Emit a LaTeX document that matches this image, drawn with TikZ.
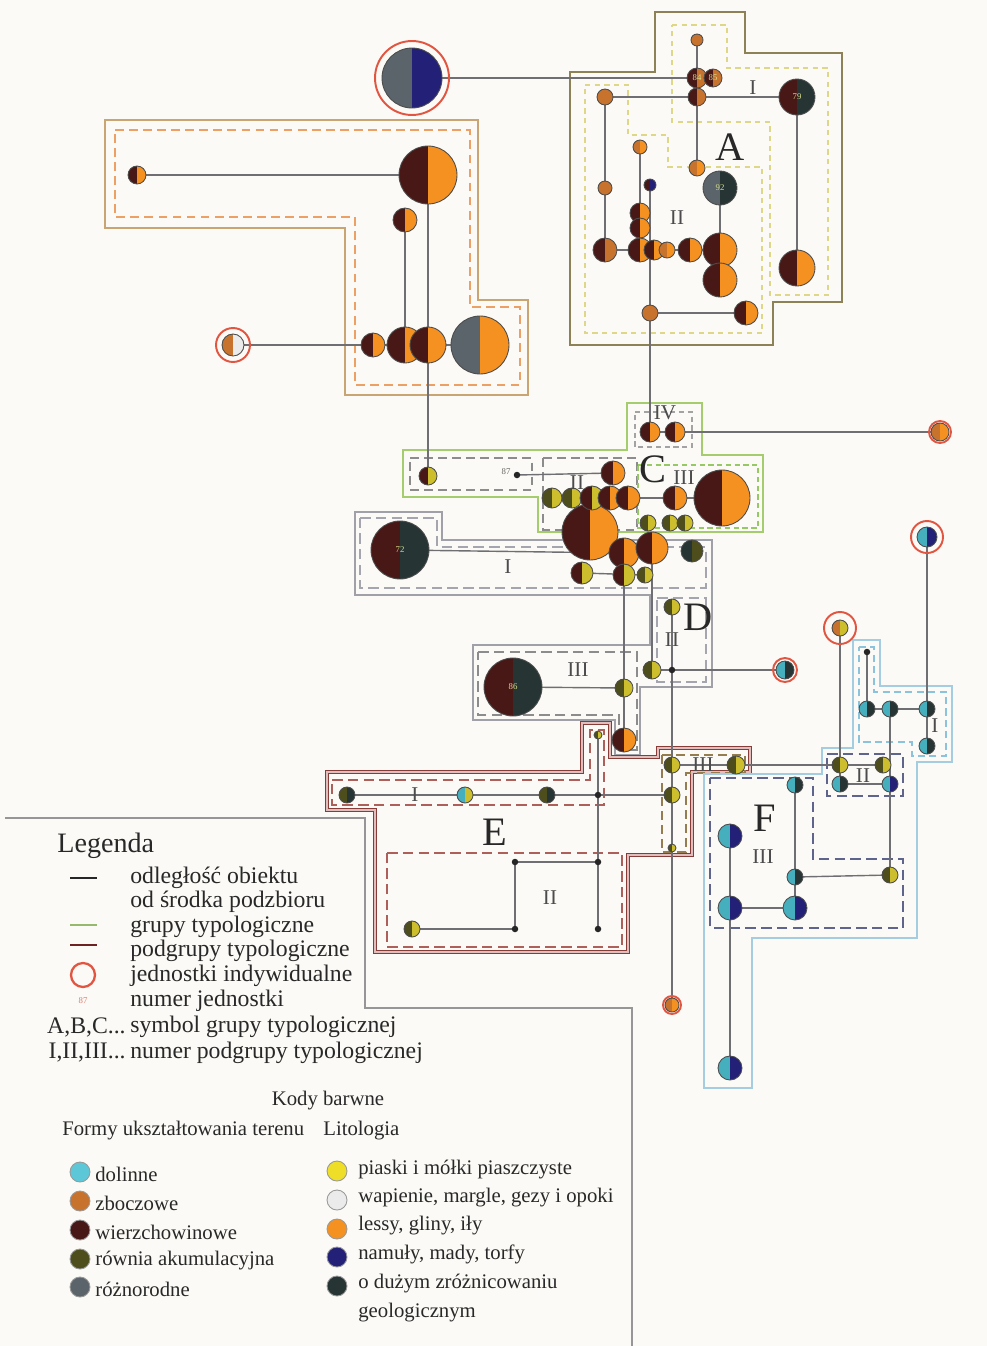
\documentclass[tikz,border=0pt]{standalone}
\usepackage{fontspec}
\setmainfont{Liberation Serif}
\definecolor{bgc}{RGB}{251,250,246}
\definecolor{dol}{RGB}{92,200,215}
\definecolor{zbo}{RGB}{200,115,45}
\definecolor{wie}{RGB}{72,24,22}
\definecolor{row}{RGB}{78,78,28}
\definecolor{roz}{RGB}{90,100,106}
\definecolor{pia}{RGB}{238,222,40}
\definecolor{wap}{RGB}{235,235,235}
\definecolor{les}{RGB}{245,145,32}
\definecolor{nam}{RGB}{35,32,120}
\definecolor{duz}{RGB}{38,52,52}
\definecolor{dolm}{RGB}{70,175,190}
\definecolor{piam}{RGB}{205,190,45}
\definecolor{linec}{RGB}{110,110,115}
\definecolor{ringc}{RGB}{225,85,65}
\definecolor{numc}{RGB}{215,220,140}
\definecolor{txtc}{RGB}{40,40,40}
\definecolor{grpAc}{RGB}{140,130,85}
\definecolor{subAc}{RGB}{222,215,135}
\definecolor{grpBc}{RGB}{200,165,115}
\definecolor{subBc}{RGB}{236,160,100}
\definecolor{grpCc}{RGB}{165,205,110}
\definecolor{subCg}{RGB}{140,140,140}
\definecolor{subCc}{RGB}{150,200,100}
\definecolor{grpDc}{RGB}{160,160,168}
\definecolor{subDc}{RGB}{165,165,175}
\definecolor{grpEc}{RGB}{135,60,55}
\definecolor{subEc}{RGB}{175,95,90}
\definecolor{subE3}{RGB}{150,125,80}
\definecolor{grpFc}{RGB}{165,205,225}
\definecolor{subFc}{RGB}{95,100,140}
\definecolor{subFl}{RGB}{140,195,220}
\definecolor{frame}{RGB}{150,150,150}
\definecolor{lgg}{RGB}{150,185,110}
\definecolor{lgr}{RGB}{110,35,35}
\pgfdeclarelayer{grp}
\pgfdeclarelayer{lnk}
\pgfsetlayers{grp,lnk,main}
\newcommand\pu[7]{\node[pie={#4}{#5}{#6}] (#1) at (#2,#3) {#7};}
\newcommand\ringat[3]{\node[ringst, minimum size=#3*0.04cm] (#1) at (#2) {};}
\newcommand\dotat[3]{\node[dotst] (#1) at (#2,#3) {};}
\begin{document}
\begin{tikzpicture}[x=0.02cm,y=-0.02cm,
  pie/.style n args={3}{circle, draw=black!70, line width=0.5pt, inner sep=0pt,
    minimum size=#1*0.04cm, font=\fontsize{5}{5}\selectfont, text=numc,
    path picture={\fill[#2] (path picture bounding box.south west) rectangle (path picture bounding box.north);
      \fill[#3] (path picture bounding box.south) rectangle (path picture bounding box.north east);}},
  ringst/.style={circle, draw=ringc, line width=1.1pt, inner sep=0pt},
  dotst/.style={circle, fill=black!85, inner sep=0pt, minimum size=0.13cm},
  conn/.style={draw=linec, line width=0.8pt},
  gA/.style={draw=grpAc, line width=1.6pt, line join=miter},
  sA/.style={draw=subAc, line width=1.3pt, dash pattern=on 3pt off 2.5pt},
  gB/.style={draw=grpBc, line width=1.6pt, line join=miter},
  sB/.style={draw=subBc, line width=1.3pt, dash pattern=on 5pt off 3pt},
  gC/.style={draw=grpCc, line width=1.6pt, line join=miter},
  sCg/.style={draw=subCg, line width=1.3pt, dash pattern=on 5pt off 3pt},
  sCc/.style={draw=subCc, line width=1.2pt, dash pattern=on 3pt off 2pt},
  gD/.style={draw=grpDc, line width=1.6pt, line join=miter},
  sD/.style={draw=subDc, line width=1.3pt, dash pattern=on 6pt off 3pt},
  gE/.style={draw=grpEc, line width=0.9pt, double=subEc!40, double distance=0.9pt, line join=miter},
  sE/.style={draw=subEc, line width=1.3pt, dash pattern=on 6pt off 3pt},
  sE3/.style={draw=subE3, line width=1.2pt, dash pattern=on 5pt off 3pt},
  gF/.style={draw=grpFc, line width=1.6pt, line join=miter},
  sFl/.style={draw=subFl, line width=1.1pt, dash pattern=on 4pt off 2.5pt},
  sF/.style={draw=subFc, line width=1.3pt, dash pattern=on 6pt off 3pt},
  big/.style={font=\fontsize{23}{23}\selectfont, text=txtc, inner sep=0pt},
  roman/.style={font=\fontsize{12}{12}\selectfont, text=black!70, inner sep=0pt},
  lgt/.style={font=\fontsize{13.5}{14}\selectfont, text=txtc, anchor=west, inner sep=0pt},
  cgt/.style={font=\fontsize{11.8}{12}\selectfont, text=txtc, anchor=west, inner sep=0pt},
  lgc/.style={circle, draw=black!40, line width=0.5pt, inner sep=0pt, minimum size=0.4cm}
]
\useasboundingbox (0,0) rectangle (987,1346);
\begin{pgfonlayer}{grp}
\fill[bgc] (0,0) rectangle (987,1346);
% group A
\draw[gA] (570,72) -- (655,72) -- (655,12) -- (745,12) -- (745,53) -- (842,53) -- (842,302) -- (773,302) -- (773,345) -- (570,345) -- cycle;
\draw[sA] (672,25) -- (727,25) -- (727,68) -- (828,68) -- (828,295) -- (770,295) -- (770,122) -- (672,122) -- cycle;
\draw[sA] (585,85) -- (628,85) -- (628,135) -- (668,135) -- (668,167) -- (762,167) -- (762,333) -- (585,333) -- cycle;
% group B
\draw[gB] (105,120) -- (478,120) -- (478,300) -- (528,300) -- (528,395) -- (345,395) -- (345,228) -- (105,228) -- cycle;
\draw[sB] (115,130) -- (470,130) -- (470,307) -- (520,307) -- (520,385) -- (355,385) -- (355,217) -- (115,217) -- cycle;
% group D
\draw[gD] (355,512) -- (442,512) -- (442,540) -- (712,540) -- (712,687) -- (640,687) -- (640,755) -- (615,755) -- (615,720) -- (473,720) -- (473,645) -- (650,645) -- (650,595) -- (355,595) -- cycle;
\draw[sD] (360,518) -- (437,518) -- (437,547) -- (706,547) -- (706,588) -- (360,588) -- cycle;
\draw[sD] (657,598) -- (706,598) -- (706,682) -- (657,682) -- cycle;
\draw[sD, draw=black!45] (478,652) -- (637,652) -- (637,750) -- (619,750) -- (619,715) -- (478,715) -- cycle;
% group C
\draw[gC] (627,403) -- (702,403) -- (702,455) -- (763,455) -- (763,532) -- (538,532) -- (538,497) -- (403,497) -- (403,450) -- (627,450) -- cycle;
\draw[sCc, draw=subCg!80] (635,412) -- (692,412) -- (692,447) -- (635,447) -- cycle;
\draw[sCg] (410,458) -- (532,458) -- (532,490) -- (410,490) -- cycle;
\draw[sCg] (543,458) -- (637,458) -- (637,530) -- (543,530) -- cycle;
\draw[sCc] (638,465) -- (758,465) -- (758,528) -- (638,528) -- cycle;
% group E
\draw[gE] (327,772) -- (582,772) -- (582,723) -- (610,723) -- (610,757) -- (658,757) -- (658,748) -- (750,748) -- (750,772) -- (692,772) -- (692,855) -- (628,855) -- (628,952) -- (375,952) -- (375,810) -- (327,810) -- cycle;
\draw[sE] (332,780) -- (590,780) -- (590,730) -- (604,730) -- (604,805) -- (332,805) -- cycle;
\draw[sE] (387,853) -- (622,853) -- (622,947) -- (387,947) -- cycle;
\draw[sE3] (662,755) -- (745,755) -- (745,773) -- (686,773) -- (686,852) -- (662,852) -- cycle;
% group F
\draw[gF] (853,640) -- (880,640) -- (880,686) -- (952,686) -- (952,762) -- (917,762) -- (917,938) -- (752,938) -- (752,1088) -- (704,1088) -- (704,774) -- (822,774) -- (822,748) -- (853,748) -- cycle;
\draw[sFl] (859,647) -- (874,647) -- (874,692) -- (946,692) -- (946,756) -- (912,756) -- (912,742) -- (859,742) -- cycle;
\draw[sF] (827,754) -- (903,754) -- (903,796) -- (827,796) -- cycle;
\draw[sF] (710,778) -- (813,778) -- (813,859) -- (903,859) -- (903,928) -- (710,928) -- cycle;
% legend frame
\draw[draw=frame, line width=1pt] (5,818) -- (365,818) -- (365,1008) -- (632,1008) -- (632,1346);
\end{pgfonlayer}

% ---------- individual units
\pu{i1}{412}{78}{30}{roz}{nam}{}
\ringat{ri1}{i1}{37}
\pu{i2}{233}{345}{11}{zbo}{wap}{}
\ringat{ri2}{i2}{17}
\pu{i3}{940}{432}{9}{zbo}{les}{}
\ringat{ri3}{i3}{11}
\pu{i4}{785}{670}{9}{dolm}{duz}{}
\ringat{ri4}{i4}{12}
\pu{i5}{672}{1005}{7}{zbo}{les}{}
\ringat{ri5}{i5}{9}
\pu{i6}{927}{537}{10}{dolm}{nam}{}
\ringat{ri6}{i6}{16}
\pu{i7}{840}{628}{8}{zbo}{piam}{}
\ringat{ri7}{i7}{16}

% ---------- group A
\pu{a1}{697}{40}{6}{zbo}{zbo}{}
\pu{a2}{697}{78}{10}{wie}{zbo}{84}
\pu{a3}{713}{78}{9}{wie}{zbo}{85}
\pu{a4}{697}{97}{9}{wie}{zbo}{}
\pu{a5}{797}{97}{18}{wie}{duz}{79}
\pu{a6}{605}{97}{8}{zbo}{zbo}{}
\pu{a7}{640}{147}{7}{zbo}{les}{}
\pu{a8}{697}{168}{8}{zbo}{les}{}
\pu{a9}{720}{188}{17}{roz}{duz}{92}
\pu{a10}{605}{188}{7}{zbo}{zbo}{}
\pu{a11}{650}{185}{6}{wie}{nam}{}
\pu{a12}{640}{213}{10}{wie}{les}{}
\pu{a13}{640}{228}{10}{wie}{les}{}
\pu{a14}{605}{250}{12}{wie}{zbo}{}
\pu{a15}{640}{250}{12}{wie}{les}{}
\pu{a16}{654}{250}{10}{wie}{les}{}
\pu{a17}{667}{250}{8}{zbo}{les}{}
\pu{a18}{690}{250}{12}{wie}{les}{}
\pu{a19}{720}{250}{17}{wie}{les}{}
\pu{a20}{720}{280}{17}{wie}{les}{}
\pu{a21}{797}{268}{18}{wie}{les}{}
\pu{a22}{650}{313}{8}{zbo}{zbo}{}
\pu{a23}{746}{313}{12}{wie}{les}{}

% ---------- group B
\pu{b1}{137}{175}{9}{wie}{les}{}
\pu{b2}{428}{175}{29}{wie}{les}{}
\pu{b3}{405}{220}{12}{wie}{les}{}
\pu{b4}{373}{345}{12}{wie}{les}{}
\pu{b5}{405}{345}{18}{wie}{les}{}
\pu{b6}{428}{345}{18}{wie}{les}{}
\pu{b7}{480}{345}{29}{roz}{les}{}

% ---------- group C
\pu{c1}{428}{476}{9}{wie}{piam}{}
\dotat{c2}{517}{475}
\node[font=\fontsize{5}{5}\selectfont, text=black!60, inner sep=0pt] (n87) at (506,472) {87};
\pu{c3}{613}{473}{12}{wie}{les}{}
\pu{c4}{650}{432}{10}{wie}{les}{}
\pu{c5}{675}{432}{10}{wie}{les}{}
\pu{c13}{590}{532}{28}{wie}{les}{}
\pu{c6}{552}{498}{10}{row}{piam}{}
\pu{c7}{572}{498}{10}{row}{piam}{}
\pu{c8}{592}{498}{12}{wie}{piam}{}
\pu{c9}{610}{498}{12}{wie}{les}{}
\pu{c10}{628}{498}{12}{wie}{les}{}
\pu{c11}{675}{498}{12}{wie}{les}{}
\pu{c12}{722}{498}{28}{wie}{les}{}
\pu{c14}{648}{523}{8}{row}{piam}{}
\pu{c15}{670}{523}{8}{row}{piam}{}
\pu{c16}{685}{523}{8}{row}{piam}{}

% ---------- group D
\pu{d1}{400}{550}{29}{wie}{duz}{72}
\pu{d2}{624}{553}{15}{wie}{les}{}
\pu{d3}{652}{548}{16}{wie}{les}{}
\pu{d4}{692}{551}{11}{duz}{row}{}
\pu{d5}{582}{573}{11}{wie}{piam}{}
\pu{d6}{624}{575}{11}{wie}{piam}{}
\pu{d7}{645}{575}{8}{row}{piam}{}
\pu{d8}{672}{607}{8}{row}{piam}{}
\pu{d9}{652}{670}{9}{row}{piam}{}
\dotat{d10}{672}{670}
\pu{d11}{513}{687}{29}{wie}{duz}{86}
\pu{d12}{624}{688}{9}{row}{piam}{}
\pu{d13}{624}{740}{12}{wie}{les}{}

% ---------- group E
\pu{e1}{347}{795}{8}{row}{duz}{}
\pu{e2}{465}{795}{8}{dolm}{piam}{}
\pu{e3}{547}{795}{8}{row}{duz}{}
\dotat{e4}{598}{795}
\pu{e5}{598}{735}{4}{row}{piam}{}
\dotat{e6}{515}{862}
\dotat{e7}{598}{862}
\dotat{e8}{515}{929}
\dotat{e9}{598}{929}
\pu{e10}{412}{929}{8}{row}{piam}{}
\pu{e11}{672}{765}{8}{row}{piam}{}
\pu{e12}{736}{765}{9}{row}{piam}{}
\pu{e13}{672}{795}{8}{row}{piam}{}
\pu{e14}{672}{848}{4}{row}{piam}{}

% ---------- group F
\dotat{f0}{867}{652}
\pu{f1}{867}{709}{8}{dolm}{duz}{}
\pu{f2}{890}{709}{8}{dolm}{duz}{}
\pu{f3}{927}{709}{8}{dolm}{duz}{}
\pu{f4}{927}{746}{8}{dolm}{duz}{}
\pu{f5}{840}{765}{8}{row}{piam}{}
\pu{f6}{883}{765}{8}{row}{piam}{}
\pu{f7}{840}{784}{8}{dolm}{duz}{}
\pu{f8}{890}{784}{8}{dolm}{nam}{}
\pu{f9}{730}{836}{12}{dolm}{nam}{}
\pu{f10}{795}{785}{8}{dolm}{duz}{}
\pu{f11}{795}{877}{8}{dolm}{duz}{}
\pu{f12}{890}{875}{8}{row}{piam}{}
\pu{f13}{730}{908}{12}{dolm}{nam}{}
\pu{f14}{795}{908}{12}{dolm}{nam}{}
\pu{f15}{730}{1068}{12}{dolm}{nam}{}

% ---------- connectors
\begin{pgfonlayer}{lnk}
\draw[conn] (i1.center) -- (a2.center);
\draw[conn] (a1.center) -- (a8.center);
\draw[conn] (a6.center) -- (a5.center);
\draw[conn] (a6.center) -- (a14.center);
\draw[conn] (a7.center) -- (a15.center);
\draw[conn] (a9.center) -- (a20.center);
\draw[conn] (a5.center) -- (a21.center);
\draw[conn] (a14.center) -- (a19.center);
\draw[conn] (a11.center) -- (a22.center);
\draw[conn] (a22.center) -- (a23.center);
\draw[conn] (a22.center) -- (c4.center);
\draw[conn] (b1.center) -- (b2.center);
\draw[conn] (b3.center) -- (b5.center);
\draw[conn] (b2.center) -- (c1.center);
\draw[conn] (i2.center) -- (b7.center);
\draw[conn] (c2.center) -- (c3.center);
\draw[conn] (c4.center) -- (i3.center);
\draw[conn] (c6.center) -- (c12.center);
\draw[conn] (d1.center) -- (d2.center);
\draw[conn] (d5.center) -- (d7.center);
\draw[conn] (d2.center) -- (d13.center);
\draw[conn] (d11.center) -- (d12.center);
\draw[conn] (d9.center) -- (i4.center);
\draw[conn] (d3.center) -- (d9.center);
\draw[conn] (d8.center) -- (i5.center);
\draw[conn] (e1.center) -- (e13.center);
\draw[conn] (e5.center) -- (e9.center);
\draw[conn] (e6.center) -- (e7.center);
\draw[conn] (e6.center) -- (e8.center);
\draw[conn] (e10.center) -- (e8.center);
\draw[conn] (e11.center) -- (f5.center);
\draw[conn] (f0.center) -- (f1.center);
\draw[conn] (f1.center) -- (f3.center);
\draw[conn] (i6.center) -- (f4.center);
\draw[conn] (i7.center) -- (f7.center);
\draw[conn] (f5.center) -- (f6.center);
\draw[conn] (f7.center) -- (f8.center);
\draw[conn] (f2.center) -- (f12.center);
\draw[conn] (f10.center) -- (f14.center);
\draw[conn] (f11.center) -- (f12.center);
\draw[conn] (f9.center) -- (f15.center);
\draw[conn] (f13.center) -- (f14.center);
\end{pgfonlayer}

% ---------- group and subgroup labels
\node[big] (lA) at (730,147) {A};
\node[big] (lC) at (653,469) {C};
\node[big] (lD) at (698,617) {D};
\node[big] (lE) at (495,832) {E};
\node[big] (lF) at (765,818) {F};
\node[roman] (rA1) at (753,88) {I};
\node[roman] (rA2) at (677,218) {II};
\node[roman] (rC4) at (665,413) {IV};
\node[roman] (rC2) at (577,483) {II};
\node[roman] (rC3) at (684,478) {III};
\node[roman] (rD1) at (508,567) {I};
\node[roman] (rD2) at (672,640) {II};
\node[roman] (rD3) at (578,670) {III};
\node[roman] (rE1) at (415,795) {I};
\node[roman] (rE2) at (550,898) {II};
\node[roman] (rE3) at (703,765) {III};
\node[roman] (rF1) at (935,726) {I};
\node[roman] (rF2) at (863,776) {II};
\node[roman] (rF3) at (763,857) {III};

% ---------- legend
\node[font=\fontsize{16}{16}\selectfont, text=txtc, anchor=west, inner sep=0pt] (lgh) at (57,846) {Legenda};
\coordinate (k1a) at (70,878); \coordinate (k1b) at (97,878);
\draw[draw=black!85, line width=1.4pt] (k1a) -- (k1b);
\coordinate (k2a) at (70,925); \coordinate (k2b) at (97,925);
\draw[draw=lgg, line width=1.4pt] (k2a) -- (k2b);
\coordinate (k3a) at (70,945); \coordinate (k3b) at (97,945);
\draw[draw=lgr, line width=1.6pt] (k3a) -- (k3b);
\node[ringst, line width=1.3pt, minimum size=0.48cm] (k4) at (83,975) {};
\node[font=\fontsize{5}{5}\selectfont, text=ringc!80, inner sep=0pt] (k5) at (83,1001) {87};
\node[lgt] (t1) at (130,878) {odległość obiektu};
\node[lgt] (t2) at (130,902) {od środka podzbioru};
\node[lgt] (t3) at (130,927) {grupy typologiczne};
\node[lgt] (t4) at (130,951) {podgrupy typologiczne};
\node[lgt] (t5) at (130,976) {jednostki indywidualne};
\node[lgt] (t6) at (130,1001) {numer jednostki};
\node[lgt] (t7) at (130,1027) {symbol grupy typologicznej};
\node[lgt, anchor=east] (s7) at (126,1027) {A,B,C...};
\node[lgt] (t8) at (130,1053) {numer podgrupy typologicznej};
\node[lgt, anchor=east] (s8) at (126,1053) {I,II,III...};

\node[cgt, anchor=center] (kb) at (328,1101) {Kody barwne};
\node[cgt] (fh) at (62,1131) {Formy ukształtowania terenu};
\node[cgt] (lh) at (323,1131) {Litologia};
\node[lgc, fill=dol] (c01) at (80,1172) {};
\node[cgt] (x01) at (95,1174) {dolinne};
\node[lgc, fill=zbo] (c02) at (80,1201) {};
\node[cgt] (x02) at (95,1203) {zboczowe};
\node[lgc, fill=wie] (c03) at (80,1230) {};
\node[cgt] (x03) at (95,1232) {wierzchowinowe};
\node[lgc, fill=row] (c04) at (80,1259) {};
\node[cgt] (x04) at (95,1261) {równia akumulacyjna};
\node[lgc, fill=roz] (c05) at (80,1287) {};
\node[cgt] (x05) at (95,1289) {różnorodne};
\node[lgc, fill=pia] (c06) at (337,1171) {};
\node[cgt] (x06) at (358,1170) {piaski i mółki piaszczyste};
\node[lgc, fill=wap] (c07) at (337,1200) {};
\node[cgt] (x07) at (358,1198) {wapienie, margle, gezy i opoki};
\node[lgc, fill=les] (c08) at (337,1229) {};
\node[cgt] (x08) at (358,1226) {lessy, gliny, iły};
\node[lgc, fill=nam] (c09) at (337,1257) {};
\node[cgt] (x09) at (358,1254) {namuły, mady, torfy};
\node[lgc, fill=duz] (c10l) at (337,1286) {};
\node[cgt] (x10) at (358,1284) {o dużym zróżnicowaniu};
\node[cgt] (x11) at (358,1313) {geologicznym};
\end{tikzpicture}
\end{document}
